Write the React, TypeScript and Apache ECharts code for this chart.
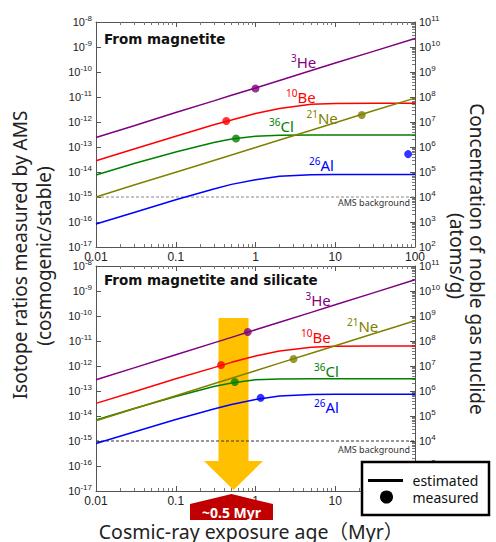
import React, { useEffect, useRef } from "react";
import * as echarts from "echarts";

// exposure ages (Myr) at which curves are read
const ages = [0.01, 0.03, 0.1, 0.3, 0.5, 1, 2, 5, 10, 30, 100];
const xTickLabels = ["0.01", "0.1", "1", "10", "100"];
const nuclides = ["3He", "10Be", "36Cl", "21Ne", "26Al"];

// Top panel: from magnetite (isotope ratio, left axis)
const he3Top = [2.4e-13, 7.1e-13, 2.4e-12, 7.0e-12, 1.17e-11, 2.3e-11, 4.6e-11, 1.15e-10, 2.3e-10, 6.7e-10, 2.2e-9];
const be10Top = [2.8e-14, 8.3e-14, 2.7e-13, 7.8e-13, 1.2e-12, 2.2e-12, 3.5e-12, 5.1e-12, 5.5e-12, 5.6e-12, 5.6e-12];
const cl36Top = [7.6e-15, 2.2e-14, 6.3e-14, 1.5e-13, 2.1e-13, 2.7e-13, 2.95e-13, 3.0e-13, 3.0e-13, 3.0e-13, 3.0e-13];
const ne21Top = [1.0e-15, 3.0e-15, 9.8e-15, 2.9e-14, 4.8e-14, 9.5e-14, 1.9e-13, 4.7e-13, 9.4e-13, 2.8e-12, 9.0e-12];
const al26Top = [8.3e-17, 2.4e-16, 7.7e-16, 2.1e-15, 3.2e-15, 4.9e-15, 6.7e-15, 7.8e-15, 8.0e-15, 8.0e-15, 8.0e-15];
const measuredTopAge = [1.0, 0.43, 0.57, 21.5, 82];
const measuredTopVal = [2.2e-11, 1.1e-12, 2.2e-13, 1.9e-12, 5.2e-14];

// Bottom panel: from magnetite and silicate
const he3Bot = [2.8e-13, 8.4e-13, 2.8e-12, 8.4e-12, 1.4e-11, 2.8e-11, 5.6e-11, 1.4e-10, 2.8e-10, 8.4e-10, 2.8e-9];
const be10Bot = [3.2e-14, 9.4e-14, 3.1e-13, 8.6e-13, 1.4e-12, 2.5e-12, 4.0e-12, 5.6e-12, 6.1e-12, 6.3e-12, 6.3e-12];
const cl36Bot = [6.9e-15, 2.0e-14, 6.0e-14, 1.5e-13, 2.1e-13, 2.8e-13, 3.05e-13, 3.1e-13, 3.1e-13, 3.1e-13, 3.1e-13];
const ne21Bot = [6.5e-15, 1.95e-14, 6.5e-14, 1.95e-13, 3.25e-13, 6.5e-13, 1.3e-12, 3.25e-12, 6.5e-12, 1.95e-11, 6.5e-11];
const al26Bot = [8.0e-16, 2.3e-15, 7.2e-15, 1.9e-14, 2.9e-14, 4.6e-14, 6.3e-14, 7.3e-14, 7.4e-14, 7.4e-14, 7.4e-14];
const measuredBotAge = [0.8, 0.37, 0.55, 3.0, 1.16];
const measuredBotVal = [2.3e-11, 1.1e-12, 2.3e-13, 1.9e-12, 5.3e-14];

const amsBackground = 1e-15;

const COLORS = ["#800080", "#FF0000", "#008000", "#808000", "#0000FF"];
const FRAME = "#555";

const expOf = (v: number) => Math.round(Math.log10(v));

function xAxis(gridIndex: number, position: string, showLabel: boolean) {
  return {
    type: "log", logBase: 10, gridIndex, position, min: 0.01, max: 100, interval: 1,
    axisLine: { show: true, onZero: false, lineStyle: { color: FRAME, width: 1 } },
    axisTick: { show: true, inside: true, length: 5, lineStyle: { color: FRAME } },
    minorTick: { show: true, splitNumber: 9, length: 3, lineStyle: { color: "#777" } },
    splitLine: { show: false }, minorSplitLine: { show: false },
    axisLabel: {
      show: showLabel, margin: 4, fontFamily: "Liberation Sans", fontSize: 12, color: "#222",
      formatter: (v: number) => xTickLabels[expOf(v) + 2] ?? "",
    },
  };
}

const supRich = {
  b: { fontSize: 11, lineHeight: 15, fontFamily: "Liberation Sans", color: "#222" },
  s: { fontSize: 8, lineHeight: 8, verticalAlign: "top", fontFamily: "Liberation Sans", color: "#222" },
};

function yAxis(gridIndex: number, position: string, min: number, max: number, minor: boolean) {
  return {
    type: "log", logBase: 10, gridIndex, position, min, max, interval: 1,
    axisLine: { show: true, onZero: false, lineStyle: { color: FRAME, width: 1 } },
    axisTick: { show: true, inside: true, length: 5, lineStyle: { color: FRAME } },
    minorTick: { show: minor, splitNumber: 9, length: 3, lineStyle: { color: "#777" } },
    splitLine: { show: false }, minorSplitLine: { show: false },
    axisLabel: {
      show: true, margin: 4,
      formatter: (v: number) => `{b|10}{s|${expOf(v)}}`,
      rich: supRich,
    },
  };
}

function panelSeries(p: number, curves: number[][], mAge: number[], mVal: number[], amsColor: string) {
  const out: any[] = [];
  curves.forEach((vals, i) => {
    out.push({
      type: "line", name: nuclides[i], xAxisIndex: p * 2, yAxisIndex: p * 2,
      data: ages.map((a, j) => [a, vals[j]]), symbol: "none", showSymbol: false,
      lineStyle: { color: COLORS[i], width: 1.5 }, z: 3, silent: true,
    });
  });
  out.push({
    type: "line", xAxisIndex: p * 2, yAxisIndex: p * 2, symbol: "none",
    data: [[ages[0], amsBackground], [ages[ages.length - 1], amsBackground]],
    lineStyle: { color: amsColor, width: 1, type: [3, 2] }, z: 2, silent: true,
  });
  out.push({
    type: "scatter", xAxisIndex: p * 2, yAxisIndex: p * 2, symbolSize: 8, z: 4, silent: true,
    data: mAge.map((a, i) => ({ value: [a, mVal[i]], itemStyle: { color: COLORS[i] } })),
  });
  return out;
}

const labelRich = (color: string) => ({
  s: { fontSize: 10, lineHeight: 10, verticalAlign: "top", fill: color, fontFamily: "Noto Sans" },
  b: { fontSize: 15, lineHeight: 18, fill: color, fontFamily: "Noto Sans" },
});

function nuclideLabel(i: number, x: number, y: number) {
  const m = nuclides[i].match(/^(\d+)(\D+)$/)!;
  return {
    type: "text", x, y, z: 10, silent: true,
    style: { text: `{s|${m[1]}}{b|${m[2]}}`, rich: labelRich(COLORS[i]), verticalAlign: "middle", align: "left" },
  };
}

export default function App() {
  const ref = useRef<HTMLDivElement>(null);
  useEffect(() => {
    const chart = echarts.init(ref.current!, null, { renderer: "svg" });
    const graphic: any[] = [
      // orange arrow
      {
        type: "polygon", z: 1, silent: true,
        shape: { points: [[218.5, 318], [248.5, 318], [248.5, 461], [263, 461], [233.5, 490], [204, 461], [218.5, 461]] },
        style: { fill: "#FFC000" },
      },
      // panel titles
      { type: "text", x: 104, y: 39, z: 10, style: { text: "From magnetite", fontSize: 13.5, fontWeight: "bold", fontFamily: "DejaVu Sans", fill: "#111", verticalAlign: "middle" } },
      { type: "text", x: 104, y: 280, z: 10, style: { text: "From magnetite and silicate", fontSize: 13.5, fontWeight: "bold", fontFamily: "DejaVu Sans", fill: "#111", verticalAlign: "middle" } },
      // AMS background labels
      { type: "text", x: 410, y: 202, z: 10, style: { text: "AMS background", fontSize: 9, fontFamily: "Noto Sans", fill: "#333", align: "right", verticalAlign: "middle" } },
      { type: "text", x: 410, y: 449, z: 10, style: { text: "AMS background", fontSize: 9, fontFamily: "Noto Sans", fill: "#333", align: "right", verticalAlign: "middle" } },
      // nuclide labels top
      nuclideLabel(0, 291, 62), nuclideLabel(1, 286, 97), nuclideLabel(2, 269, 126), nuclideLabel(3, 306.5, 118), nuclideLabel(4, 309, 165),
      // nuclide labels bottom
      nuclideLabel(0, 305.5, 300), nuclideLabel(1, 301, 337), nuclideLabel(2, 314, 371), nuclideLabel(3, 347, 326), nuclideLabel(4, 314, 407),
      // axis titles
      { type: "text", x: 20, y: 255, rotation: Math.PI / 2, z: 10, style: { text: "Isotope ratios measured by AMS", fontSize: 19, fontFamily: "Noto Sans", fill: "#222", align: "center", verticalAlign: "middle" } },
      { type: "text", x: 44, y: 256, rotation: Math.PI / 2, z: 10, style: { text: "(cosmogenic/stable)", fontSize: 19, fontFamily: "Noto Sans", fill: "#222", align: "center", verticalAlign: "middle" } },
      { type: "text", x: 477, y: 259, rotation: -Math.PI / 2, z: 10, style: { text: "Concentration of noble gas nuclide", fontSize: 19, fontFamily: "Noto Sans", fill: "#222", align: "center", verticalAlign: "middle" } },
      { type: "text", x: 457, y: 256, rotation: -Math.PI / 2, z: 10, style: { text: "(atoms/g)", fontSize: 19, fontFamily: "Noto Sans", fill: "#222", align: "center", verticalAlign: "middle" } },
      { type: "text", x: 251, y: 531, z: 10, style: { text: "Cosmic-ray exposure age（Myr）", fontSize: 19.5, fontFamily: "'Noto Sans', 'Noto Sans CJK JP'", fill: "#222", align: "center", verticalAlign: "middle" } },
      // ~0.5 Myr marker
      {
        type: "polygon", z: 50, silent: true,
        shape: { points: [[190, 504], [231.5, 494], [273, 504], [273, 520], [190, 520]] },
        style: { fill: "#C00000" },
      },
      { type: "text", x: 231.5, y: 512, z: 51, style: { text: "~0.5 Myr", fontSize: 14, fontWeight: "bold", fontFamily: "Noto Sans", fill: "#fff", align: "center", verticalAlign: "middle" } },
      // legend box
      { type: "rect", z: 60, shape: { x: 362, y: 462, width: 127, height: 53 }, style: { fill: "#fff", stroke: "#000", lineWidth: 2.5 } },
      { type: "line", z: 61, shape: { x1: 368, y1: 480.5, x2: 403, y2: 480.5 }, style: { stroke: "#000", lineWidth: 3 } },
      { type: "circle", z: 61, shape: { cx: 386.5, cy: 497, r: 6.5 }, style: { fill: "#000" } },
      { type: "text", x: 412.5, y: 480, z: 61, style: { text: "estimated", fontSize: 14, fontFamily: "Noto Sans", fill: "#111", verticalAlign: "middle" } },
      { type: "text", x: 412.5, y: 497, z: 61, style: { text: "measured", fontSize: 14, fontFamily: "Noto Sans", fill: "#111", verticalAlign: "middle" } },
    ];

    chart.setOption({
      animation: false,
      backgroundColor: "#fff",
      grid: [
        { left: 96, top: 22, width: 319, height: 225 },
        { left: 96, top: 266, width: 319, height: 225 },
      ],
      xAxis: [xAxis(0, "bottom", true), xAxis(0, "top", false), xAxis(1, "bottom", true), xAxis(1, "top", false)],
      yAxis: [
        yAxis(0, "left", 1e-17, 1e-8, false), yAxis(0, "right", 1e2, 1e11, true),
        yAxis(1, "left", 1e-17, 1e-8, false), yAxis(1, "right", 1e2, 1e11, true),
      ],
      series: [
        ...panelSeries(0, [he3Top, be10Top, cl36Top, ne21Top, al26Top], measuredTopAge, measuredTopVal, "#888"),
        ...panelSeries(1, [he3Bot, be10Bot, cl36Bot, ne21Bot, al26Bot], measuredBotAge, measuredBotVal, "#333"),
      ],
      graphic,
    });
    return () => chart.dispose();
  }, []);
  return <div ref={ref} style={{ width: 496, height: 542, position: "absolute", left: 0, top: 0 }} />;
}
